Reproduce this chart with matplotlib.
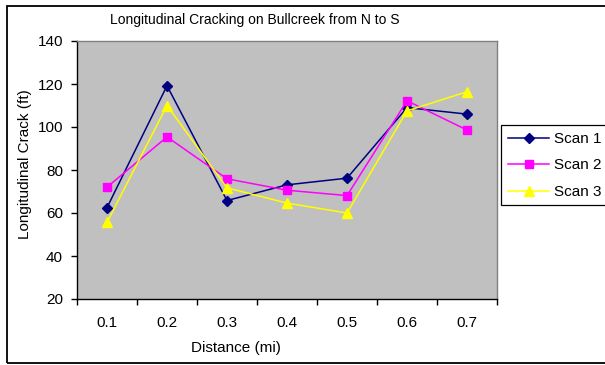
import matplotlib
matplotlib.use("Agg")
import matplotlib.pyplot as plt
from matplotlib.patches import Rectangle
import numpy as np

plt.rcParams['font.family'] = ['Liberation Sans', 'DejaVu Sans']

categories = ['0.1', '0.2', '0.3', '0.4', '0.5', '0.6', '0.7']
scan1 = [62.5, 119.2, 65.8, 73.1, 76.2, 109.0, 106.0]
scan2 = [72.0, 95.4, 75.9, 70.6, 68.1, 112.2, 98.6]
scan3 = [55.6, 110.0, 71.7, 64.6, 60.0, 107.5, 116.4]
series_names = ['Scan 1', 'Scan 2', 'Scan 3']
yticks = [20, 40, 60, 80, 100, 120, 140]

W, H = 605, 365
fig = plt.figure(figsize=(W / 100, H / 100), dpi=100)

def fx(px):
    return px / W

def fy(py):
    return 1 - py / H

# outer chart frame
fig.patches.append(Rectangle((fx(7), fy(363)), fx(700) - fx(7), fy(6) - fy(363),
                             transform=fig.transFigure, fill=False,
                             edgecolor='black', linewidth=1.3, zorder=0))
# legend frame (extends beyond the right edge, as in the reference)
fig.patches.append(Rectangle((fx(501), fy(205)), fx(700) - fx(501), fy(125) - fy(205),
                             transform=fig.transFigure, facecolor='white',
                             edgecolor='black', linewidth=0.9, zorder=1))

ax = fig.add_axes([fx(77), fy(299), fx(497) - fx(77), fy(41) - fy(299)])
ax.set_facecolor('#C0C0C0')

x = np.arange(len(categories))
styles = [
    dict(color='#000080', marker='D', markersize=5.5),
    dict(color='#FF00FF', marker='s', markersize=6),
    dict(color='#FFFF00', marker='^', markersize=7),
]
for vals, name, st in zip([scan1, scan2, scan3], series_names, styles):
    ax.plot(x, vals, label=name, linewidth=1.1, **st)

ax.set_xlim(-0.5, len(categories) - 0.5)
ax.set_ylim(20, 140)
ax.set_yticks(yticks)
ax.set_yticklabels([str(v) for v in yticks], fontsize=11)
ax.set_xticks(x)
ax.set_xticklabels(categories, fontsize=11)
ax.tick_params(axis='x', which='major', length=0, pad=12)
ax.set_xticks(np.arange(-0.5, len(categories)), minor=True)
ax.tick_params(axis='x', which='minor', length=4, width=1, direction='out')
ax.tick_params(axis='y', which='major', length=4, width=1, direction='out', pad=6)

for side in ['top', 'right']:
    ax.spines[side].set_color('#808080')
    ax.spines[side].set_linewidth(1)
for side in ['left', 'bottom']:
    ax.spines[side].set_color('black')
    ax.spines[side].set_linewidth(1)

fig.text(fx(255), fy(24), 'Longitudinal Cracking on Bullcreek from N to S',
         ha='center', va='baseline', fontsize=10)
fig.text(fx(236), fy(351.7), 'Distance (mi)', ha='center', va='baseline', fontsize=11)
fig.text(fx(25.5), fy(164), 'Longitudinal Crack (ft)', ha='center', va='center',
         rotation=90, fontsize=11)

leg = fig.legend(loc='upper left', bbox_to_anchor=(fx(501), fy(125)),
                 bbox_transform=fig.transFigure, fontsize=11,
                 handlelength=2.7, handletextpad=0.3, borderpad=0.45,
                 labelspacing=0.82, frameon=False, borderaxespad=0)
leg.set_zorder(2)

fig.savefig('out.png', dpi=100)
